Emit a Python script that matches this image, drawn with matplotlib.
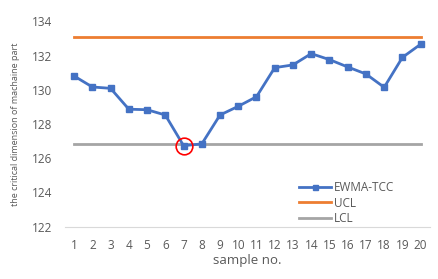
import numpy as np
import matplotlib.pyplot as plt

samples = list(range(1, 21))
ewma_tcc = [130.81, 130.17, 130.09, 128.87, 128.84, 128.53, 126.74, 126.84, 128.53, 129.04,
            129.6, 131.3, 131.46, 132.12, 131.77, 131.34, 130.93, 130.15, 131.9, 132.67]
ucl = [133.12] * 20
lcl = [126.84] * 20
flagged = [7]

plt.rcParams['font.family'] = ['Open Sans', 'DejaVu Sans']

fig = plt.figure(figsize=(4.39, 2.79), dpi=100)
ax = fig.add_axes([0.148, 0.1875, 0.831, 0.7355])

ax.plot(samples, ewma_tcc, color="#4472C4", lw=2, marker="s", ms=4.5, label="EWMA-TCC", zorder=3)
ax.plot(samples, ucl, color="#ED7D31", lw=2, label="UCL", zorder=2)
ax.plot(samples, lcl, color="#A5A5A5", lw=2, label="LCL", zorder=2)

fx = flagged
fy = [ewma_tcc[i - 1] for i in flagged]
ax.plot(fx, fy, ls="none", marker="o", ms=12, mfc="none", mec="red", mew=1.2, zorder=4)

ax.set_xlim(0.5, 20.5)
ax.set_ylim(122, 134)
ax.set_xticks(samples)
ax.set_yticks(np.arange(122, 135, 2))
ax.tick_params(length=0, labelsize=8.5, colors="#595959")
ax.tick_params(axis="y", pad=9)
ax.tick_params(axis="x", pad=9)

for s in ["top", "right", "left"]:
    ax.spines[s].set_visible(False)
ax.spines["bottom"].set_color("#D9D9D9")

ax.set_xlabel("sample no.", fontsize=9.5, color="#595959", labelpad=1)
ax.set_ylabel("the critical dimension of machaine part", fontsize=6.5, color="#595959", labelpad=9)

leg = ax.legend(loc="lower left", bbox_to_anchor=(0.625, -0.02), frameon=False, fontsize=8.5,
                borderpad=0, handlelength=2.7, handletextpad=0.25, labelspacing=0.2, markerscale=0.8)
for t in leg.get_texts():
    t.set_color("#595959")

plt.savefig("out.png", dpi=100)
